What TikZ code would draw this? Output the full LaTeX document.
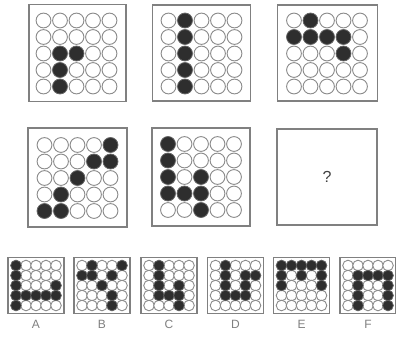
\documentclass[tikz,border=0pt]{standalone}
\usepackage{fontspec}
\setmainfont{Liberation Sans}
\begin{document}
\begin{tikzpicture}[x=1pt,y=-1pt,
  panel/.style={draw=black!50,line width=1.4pt,fill=white,inner sep=0pt},
  smallpanel/.style={draw=black!50,line width=1.2pt,fill=white,inner sep=0pt,minimum width=56pt,minimum height=56pt},
  ring/.style={draw=black!45,line width=0.9pt,fill=white},
  dot/.style={draw=black!60,line width=0.6pt,fill=black!82},
  letter/.style={text=black!50,font=\fontsize{12}{14}\selectfont},
]
\useasboundingbox (0,0) rectangle (396,337);
\newcommand\dotgrid[5]{%
  \foreach \rr in {1,...,5}{\foreach \cc in {1,...,5}{%
    \draw[ring] ({#1+(\cc-3)*#3},{#2+(\rr-3)*#3}) circle (#4pt);}}
  \foreach \rr/\cc in {#5}{%
    \draw[dot] ({#1+(\cc-3)*#3},{#2+(\rr-3)*#3}) circle (#4pt);}%
}
% top row
\node[panel,minimum width=97pt,minimum height=97pt] (p1) at (77.5,53) {};
\node[panel,minimum width=98pt,minimum height=96pt] (p2) at (201.5,53) {};
\node[panel,minimum width=100pt,minimum height=96pt] (p3) at (327.5,53) {};
\dotgrid{76.5}{53.5}{16.5}{7.4}{3/2,3/3,4/2,5/2}
\dotgrid{201.5}{53.5}{16.5}{7.4}{1/2,2/2,3/2,4/2,5/2}
\dotgrid{327}{53.5}{16.5}{7.4}{1/2,2/1,2/2,2/3,2/4,3/4}
% middle row
\node[panel,minimum width=99pt,minimum height=99pt] (p4) at (77.5,177.5) {};
\node[panel,minimum width=98pt,minimum height=98pt] (p5) at (201,177) {};
\node[panel,minimum width=100pt,minimum height=96pt] (p6) at (327,177) {};
\dotgrid{77.5}{178}{16.5}{7.4}{1/5,2/4,2/5,3/3,4/2,5/1,5/2}
\dotgrid{201}{177}{16.5}{7.4}{1/1,2/1,3/1,3/3,4/1,4/2,4/3,5/3}
\node[text=black!75,font=\fontsize{16}{18}\selectfont] (q) at (p6.center) {?};
% bottom row
\node[smallpanel] (a) at (36,285.5) {};
\node[smallpanel] (b) at (102,285.5) {};
\node[smallpanel] (c) at (169,285.5) {};
\node[smallpanel] (d) at (235.5,285.5) {};
\node[smallpanel] (e) at (301.5,285.5) {};
\node[smallpanel] (f) at (368,285.5) {};
\dotgrid{36}{285.5}{10}{5.3}{1/1,2/1,3/1,3/5,4/1,4/2,4/3,4/4,4/5,5/1}
\dotgrid{102}{285.5}{10}{5.3}{1/2,1/5,2/1,2/2,2/4,3/3,4/4,5/4}
\dotgrid{169}{285.5}{10}{5.3}{1/2,2/2,3/2,3/4,4/2,4/3,4/4,5/4}
\dotgrid{235.5}{285.5}{10}{5.3}{1/2,2/2,2/4,2/5,3/2,3/4,4/2,4/3,4/4}
\dotgrid{301.5}{285.5}{10}{5.3}{1/1,1/2,1/3,1/4,1/5,2/1,2/3,2/5,3/1,3/5}
\dotgrid{368}{285.5}{10}{5.3}{2/2,2/3,2/4,2/5,3/2,3/5,4/2,4/5,5/2,5/5}
\node[letter] (la) at (36,324) {A};
\node[letter] (lb) at (102,324) {B};
\node[letter] (lc) at (169,324) {C};
\node[letter] (ld) at (235.5,324) {D};
\node[letter] (le) at (301.5,324) {E};
\node[letter] (lf) at (368,324) {F};
\end{tikzpicture}
\end{document}
